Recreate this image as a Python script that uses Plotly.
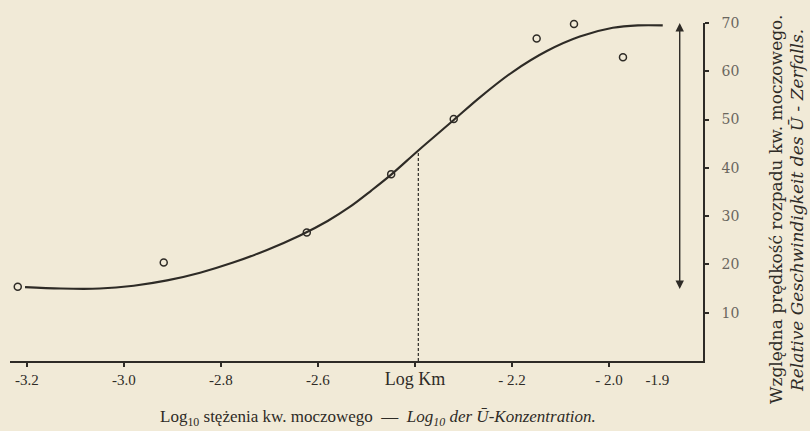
import plotly.graph_objects as go

# measured points (log10 concentration, relative rate)
pt_x = [-3.219, -2.918, -2.623, -2.449, -2.320, -2.149, -2.072, -1.971]
pt_y = [15.4, 20.4, 26.6, 38.7, 50.1, 66.8, 69.8, 62.9]

# fitted curve
curve_x = [-3.204, -3.130, -3.050, -2.980, -2.911, -2.843, -2.775, -2.705, -2.637, -2.580,
           -2.536, -2.490, -2.449, -2.393, -2.320, -2.266, -2.198, -2.128, -2.060, -1.992,
           -1.940, -1.889]
curve_y = [15.3, 15.0, 15.0, 15.6, 16.7, 18.3, 20.4, 23.0, 26.0, 29.0,
           31.8, 35.3, 38.6, 43.6, 49.9, 54.6, 59.9, 64.2, 67.2, 69.0,
           69.5, 69.5]

# Log Km marker and amplitude arrow
km_x = -2.393
km_y = 43.6
arrow_x = -1.854
arrow_lo = 14.6
arrow_hi = 70.0

x_tick_vals = [-3.2, -3.0, -2.8, -2.6, -2.4, -2.2, -2.0]
x_label_vals = [-3.2, -3.0, -2.8, -2.6, -2.4, -2.2, -2.0, -1.9]
x_label_text = ["-3.2", "-3.0", "-2.8", "-2.6",
                "<span style='font-size:18px'>Log Km</span>", "- 2.2", "- 2.0", "-1.9"]
y_tick_vals = [10, 20, 30, 40, 50, 60, 70]

x_title = "Log<sub>10</sub> stężenia kw. moczowego  —  <i>Log<sub>10</sub> der Ū-Konzentration.</i>"
y_title_pl = "Względna prędkość rozpadu kw. moczowego."
y_title_de = "<i>Relative Geschwindigkeit des Ū - Zerfalls.</i>"

ink = "#2e2b26"
paper = "#f1ead7"
serif = "Liberation Serif"
serif2 = "DejaVu Serif"

ML, MR, MT, MB = 10, 107, 23, 70
W, H = 810, 431
pw, ph = W - ML - MR, H - MT - MB


def px_to_paper(px, py):
    return (px - ML) / pw, (H - MB - py) / ph


fig = go.Figure()
fig.add_trace(go.Scatter(x=curve_x, y=curve_y, mode="lines",
                         line=dict(color=ink, width=2.1, shape="spline", smoothing=1.0),
                         hoverinfo="skip", showlegend=False, cliponaxis=False))
fig.add_trace(go.Scatter(x=pt_x, y=pt_y, mode="markers",
                         marker=dict(symbol="circle-open", size=7, color=ink,
                                     line=dict(width=1.5, color=ink)),
                         showlegend=False, cliponaxis=False))
# invisible trace that carries the labelled axis
fig.add_trace(go.Scatter(x=[x_label_vals[0]], y=[0], xaxis="x2", mode="markers",
                         marker=dict(opacity=0), showlegend=False, hoverinfo="skip"))

fig.add_shape(type="line", x0=km_x, x1=km_x, y0=0, y1=km_y, xref="x", yref="y",
              line=dict(color=ink, width=1.2, dash="3px,2px"))

fig.add_annotation(x=arrow_x, y=arrow_hi, ax=arrow_x, ay=arrow_lo, xref="x", yref="y",
                   axref="x", ayref="y", text="", showarrow=True, arrowhead=2,
                   arrowside="end+start", arrowsize=1.2, arrowwidth=1.4, arrowcolor=ink)

bx, by = px_to_paper(378, 418)
fig.add_annotation(x=bx, y=by, xref="paper", yref="paper", xanchor="center", yanchor="middle",
                   text=x_title, showarrow=False, font=dict(family=serif, size=17, color=ink))

ax1, ay1 = px_to_paper(776, 210)
ax2, ay2 = px_to_paper(797, 211)
fig.add_annotation(x=ax1, y=ay1, xref="paper", yref="paper", text=y_title_pl,
                   showarrow=False, textangle=-90, xanchor="center", yanchor="middle",
                   font=dict(family=serif2, size=17, color=ink))
fig.add_annotation(x=ax2, y=ay2, xref="paper", yref="paper", text=y_title_de,
                   showarrow=False, textangle=-90, xanchor="center", yanchor="middle",
                   font=dict(family=serif2, size=17, color=ink))

fig.update_layout(
    width=W, height=H,
    margin=dict(l=ML, r=MR, t=MT, b=MB),
    paper_bgcolor=paper, plot_bgcolor=paper,
    font=dict(family=serif, color=ink),
    xaxis=dict(range=[-3.235, -1.806], showline=True, linecolor=ink, linewidth=1.5,
               ticks="outside", ticklen=4, tickwidth=1.5, tickcolor=ink,
               tickvals=x_tick_vals, showticklabels=False,
               showgrid=False, zeroline=False, fixedrange=True),
    xaxis2=dict(range=[-3.235, -1.806], overlaying="x", side="bottom", anchor="y",
                tickvals=x_label_vals, ticktext=x_label_text, ticks="",
                showline=False, showgrid=False, zeroline=False,
                tickfont=dict(family=serif, size=15, color=ink), ticklabelstandoff=8),
    yaxis=dict(range=[0, 70], side="right", showline=True, linecolor=ink, linewidth=1.5,
               ticks="outside", ticklen=4, tickwidth=1.5, tickcolor=ink,
               tickvals=y_tick_vals, showgrid=False, zeroline=False,
               tickfont=dict(family=serif2, size=14, color="#6a665e"), ticklabelstandoff=10),
    showlegend=False,
)

fig.write_html("out.html")
